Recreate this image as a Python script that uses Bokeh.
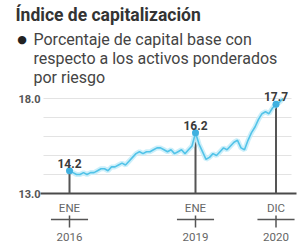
from bokeh.plotting import figure
from bokeh.models import Range1d, Label
from bokeh.core.properties import value
from bokeh.embed import file_html
from bokeh.resources import INLINE

# ---- data ----
months = list(range(62))  # month index from ENE 2016
values = [14.2, 14.1, 14.0, 14.0, 14.1, 14.0, 14.1, 14.1, 14.2, 14.3,
          14.3, 14.2, 14.4, 14.4, 14.5, 14.6, 14.5, 14.7, 14.9, 15.1,
          15.2, 15.1, 15.2, 15.2, 15.3, 15.4, 15.4, 15.3, 15.2, 15.3,
          15.1, 15.2, 15.3, 15.1, 15.3, 15.5, 16.2, 15.6, 15.2, 14.8,
          14.9, 15.1, 15.0, 15.2, 15.4, 15.3, 15.5, 15.7, 15.8, 15.4,
          15.3, 15.8, 16.2, 16.5, 16.9, 17.2, 17.3, 17.2, 17.5, 17.7,
          17.8, 18.0]
highlight_idx = [0, 36, 59]
highlight_labels = ["14.2", "16.2", "17.7"]
tick_months = [0, 36, 59]
tick_top = ["ENE", "ENE", "DIC"]
tick_bottom = ["2016", "2019", "2020"]
y_label_vals = [13, 18]
y_labels = ["13.0", "18.0"]
grid_vals = [14, 15, 16, 17, 18]

title_text = "Índice de capitalización"
sub_lines = ["Porcentaje de capital base con",
             "respecto a los activos ponderados",
             "por riesgo"]

# ---- figure ----
W, H = 300, 246
X0, XS = 69, 3.5      # pixel of month 0, pixels per month
Y0, YS = 193, 19      # pixel of value 13, pixels per unit
p = figure(width=W, height=H, output_backend="svg", toolbar_location=None,
           x_range=Range1d(-X0 / XS, (W - X0) / XS),
           y_range=Range1d(13 - (H - Y0) / YS, 13 + Y0 / YS),
           x_axis_type=None, y_axis_type=None,
           min_border=0, min_border_left=0, min_border_right=0,
           min_border_top=0, min_border_bottom=0)
p.outline_line_color = None
p.xgrid.visible = False
p.ygrid.visible = False
p.background_fill_color = "white"
p.border_fill_color = "white"

def py(page_y):
    return 13 - (page_y - Y0) / YS

def px(page_x):
    return (page_x - X0) / XS

FONT = value("Roboto")

# grid lines
p.segment(x0=[px(43)] * len(grid_vals), x1=[px(291)] * len(grid_vals),
          y0=grid_vals, y1=grid_vals, line_color="#e3e3e3", line_width=1)

# baseline
p.segment(x0=[px(40)], x1=[px(296)], y0=[13], y1=[13],
          line_color="#4a4a4a", line_width=2)

# y labels
p.text(x=[px(40)] * 2, y=y_label_vals, text=y_labels, text_align="right",
       text_baseline="middle", text_font=FONT, text_font_size="11px",
       text_font_style="bold", text_color="#555555")

# highlight vertical lines
hx = [months[i] for i in highlight_idx]
hy = [values[i] for i in highlight_idx]
p.segment(x0=hx, x1=hx, y0=[13] * 3, y1=hy, line_color="#555555",
          line_width=2)

# line with glow
p.line(months, values, line_color="#c6edf9", line_width=5, line_alpha=0.9)
p.line(months, values, line_color="#52c3e8", line_width=1.6)

# markers
p.scatter(hx, hy, size=7, fill_color="#3fb0df", line_color=None)

# value labels
p.text(x=hx, y=hy, text=highlight_labels, text_align="center",
       text_baseline="bottom", y_offset=-3, text_font=FONT,
       text_font_size="12px", text_font_style="bold", text_color="#3a3a3a")

# x labels
p.text(x=tick_months, y=[13] * 3, text=tick_top, text_align="center",
       text_baseline="middle", y_offset=14, text_font=FONT,
       text_font_size="11.5px", text_color="#666666")
p.text(x=tick_months, y=[13] * 3, text=tick_bottom, text_align="center",
       text_baseline="middle", y_offset=43, text_font=FONT,
       text_font_size="11.5px", text_color="#666666")
p.segment(x0=[m - 5.3 for m in tick_months], x1=[m + 5.3 for m in tick_months],
          y0=[py(219)] * 3, y1=[py(219)] * 3, line_color="#555555",
          line_width=1.5)
p.segment(x0=tick_months, x1=tick_months, y0=[py(215)] * 3,
          y1=[py(227)] * 3, line_color="#555555", line_width=1.5)

# title and subtitle
p.add_layout(Label(x=15, y=H - 14, x_units="screen", y_units="screen",
                   text=title_text, text_font="Roboto",
                   text_font_size="17.5px", text_font_style="bold",
                   text_color="#333333", text_baseline="middle"))
p.add_layout(Label(x=21.5, y=H - 39, x_units="screen", y_units="screen",
                   text="●", text_font="DejaVu Sans", text_font_size="11px",
                   text_color="#222222", text_baseline="middle",
                   text_align="center"))
for i, line in enumerate(sub_lines):
    p.add_layout(Label(x=33, y=H - 39 - 19 * i, x_units="screen",
                       y_units="screen", text=line, text_font="Roboto",
                       text_font_size="16px", text_color="#444444",
                       text_baseline="middle"))

open("out.html", "w").write(file_html(p, INLINE))
